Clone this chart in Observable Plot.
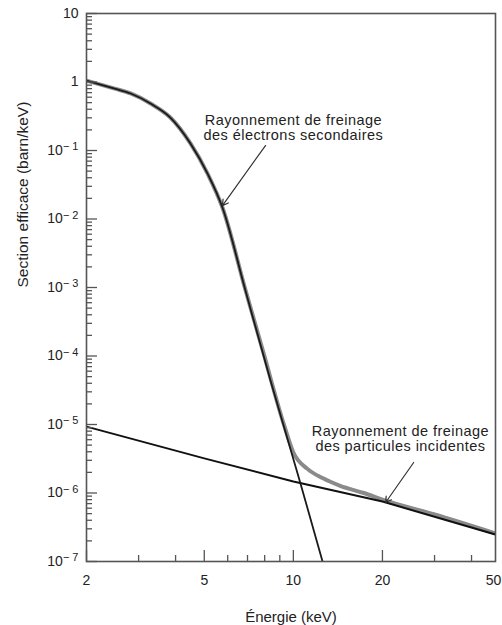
<!DOCTYPE html>
<html><head><meta charset="utf-8">
<script src="https://cdn.jsdelivr.net/npm/d3@7"></script>
<script src="https://cdn.jsdelivr.net/npm/@observablehq/plot@0.6"></script>
<style>
body{margin:0;background:#fff;}
#chart{width:502px;height:625px;overflow:hidden;}
</style></head><body><div id="chart"></div>
<script>
// Energy (keV) and cross-section (barn/keV)
const secondaryE = [2.0, 2.49, 2.82, 3.29, 3.84, 4.49, 5.13, 5.76, 6.89, 8.37, 10.57, 12.55];
const secondaryV = [1.05, 0.80, 0.68, 0.485, 0.303, 0.127, 0.046, 0.0147, 9.0e-4, 4.4e-5, 1.38e-6, 1.0e-7];

const totalE = [2.0, 2.49, 2.82, 3.29, 3.84, 4.49, 5.13, 5.76, 6.89, 7.93, 9.27, 10.0, 11.16, 12.55, 14.4, 17.3, 20.0, 29.8, 48.2];
const totalV = [1.05, 0.80, 0.68, 0.485, 0.303, 0.127, 0.046, 0.0147, 9.2e-4, 1.1e-4, 1.03e-5, 3.9e-6, 2.25e-6, 1.65e-6, 1.27e-6, 1.0e-6, 8.0e-7, 4.9e-7, 2.57e-7];

const incidentE = [2, 5, 10, 20, 48.2];
const incidentV = [9.3e-6, 3.2e-6, 1.47e-6, 7.5e-7, 2.48e-7];

const xDomain = [2, 48.2];
const yDomain = [1e-7, 10];
const xMajor = [2, 5, 10, 20];
const xLabelTicks = [2, 5, 10, 20];
const xEdgeLabel = [50];
const xMinor = [3, 4, 6, 7, 8, 9, 30, 40];
const yMajor = [1e-7, 1e-6, 1e-5, 1e-4, 1e-3, 1e-2, 1e-1, 1, 10];
const yTickLabels = ["10^-7", "10^-6", "10^-5", "10^-4", "10^-3", "10^-2", "10^-1", "1", "10"];
const yMinorMult = [2, 3, 4, 5, 6, 7, 8, 9];
const yMinorExp = [-7, -6, -5, -4, -3, -2, -1, 0];
const xTitle = "Énergie (keV)";
const yTitle = "Section efficace (barn/keV)";

const annText = ["Rayonnement de freinage\ndes électrons secondaires", "Rayonnement de freinage\ndes particules incidentes"];
const annX = [10.0, 23.0];
const annY = [0.347, 1.0e-5];
const arrowX1 = [8.05, 25.5];
const arrowY1 = [0.118, 2.79e-6];
const arrowX2 = [5.76, 20.5];
const arrowY2 = [0.0157, 7.26e-7];

const secondary = secondaryE.map((e, i) => ({e, v: secondaryV[i]}));
const total = totalE.map((e, i) => ({e, v: totalV[i]}));
const incident = incidentE.map((e, i) => ({e, v: incidentV[i]}));
const annotations = annText.map((t, i) => ({t, x: annX[i], y: annY[i]}));
const arrows = arrowX1.map((x1, i) => ({x1, y1: arrowY1[i], x2: arrowX2[i], y2: arrowY2[i]}));
const yMinor = yMinorExp.flatMap(p => yMinorMult.map(m => +(m * Math.pow(10, p)).toPrecision(3)));
const yLabels = yMajor.map((v, i) => ({v, label: yTickLabels[i]}));

const W = 502, H = 625, mL = 86, mR = 7, mT = 13, mB = 64;
const plotW = W - mL - mR, plotH = H - mT - mB;
const majorLen = 11, minorLen = 6;
const axisColor = "#555";

const chart = Plot.plot({
  width: W, height: H,
  marginLeft: mL, marginRight: mR, marginTop: mT, marginBottom: mB,
  style: {fontFamily: "'Liberation Sans', Arial, Helvetica, sans-serif", fontSize: "14px", color: "#222", background: "#fff"},
  x: {type: "log", domain: xDomain, axis: null},
  y: {type: "log", domain: yDomain, axis: null},
  marks: [
    Plot.line(total, {x: "e", y: "v", stroke: "#8a8a8a", strokeWidth: 4, curve: "monotone-x", clip: true}),
    Plot.line(incident, {x: "e", y: "v", stroke: "#111", strokeWidth: 2, clip: true}),
    Plot.line(secondary, {x: "e", y: "v", stroke: "#1a1a1a", strokeWidth: 1.8, curve: "monotone-x", clip: true}),
    Plot.arrow(arrows, {x1: "x1", y1: "y1", x2: "x2", y2: "y2", stroke: "#333", strokeWidth: 1.2, headLength: 8}),
    Plot.text(annotations, {x: "x", y: "y", text: "t", lineAnchor: "top", textAnchor: "middle", fontSize: 14.5, lineHeight: 1.07, fill: "#222"}),
    Plot.frame({stroke: axisColor, strokeWidth: 1.6}),
    Plot.tickX(xMajor, {x: d => d, insetTop: plotH - majorLen, stroke: axisColor, strokeWidth: 1.3}),
    Plot.tickX(xMinor, {x: d => d, insetTop: plotH - minorLen, stroke: axisColor, strokeWidth: 1.3}),
    Plot.tickY(yMajor, {y: d => d, insetRight: plotW - majorLen, stroke: axisColor, strokeWidth: 1.3}),
    Plot.tickY(yMinor, {y: d => d, insetRight: plotW - minorLen, stroke: axisColor, strokeWidth: 1.3}),
    Plot.text(xLabelTicks, {x: d => d, text: d => String(d), frameAnchor: "bottom", lineAnchor: "top", dy: 14, fontSize: 14, fill: "#222"}),
    Plot.text(xEdgeLabel, {x: d => d, text: d => String(d), frameAnchor: "bottom", lineAnchor: "top", textAnchor: "end", dy: 14, dx: 1, fontSize: 14, fill: "#222"}),
    Plot.text(yLabels, {y: "v", text: "label", frameAnchor: "left", textAnchor: "end", dx: -8, fontSize: 14, fill: "#222"}),
    Plot.text([xTitle], {text: d => d, frameAnchor: "bottom", lineAnchor: "bottom", dy: 60, fontSize: 15, fill: "#222"}),
    Plot.text([yTitle], {text: d => d, frameAnchor: "left", rotate: -90, lineAnchor: "top", dx: -70, fontSize: 15.5, fill: "#222"})
  ]
});
document.getElementById("chart").append(chart);

d3.select(chart).selectAll("text").each(function() {
  const t = this.textContent;
  if (t.startsWith("Rayonnement")) d3.select(this).style("letter-spacing", "0.45px");
  if (/^10\^-\d$/.test(t)) {
    const [base, exp] = t.split("^");
    const sel = d3.select(this);
    sel.text(null);
    sel.append("tspan").text(base);
    sel.append("tspan").attr("dy", "-0.45em").attr("font-size", "11px").text("\u2212 " + exp.replace("-", ""));
  }
});
</script></body></html>
